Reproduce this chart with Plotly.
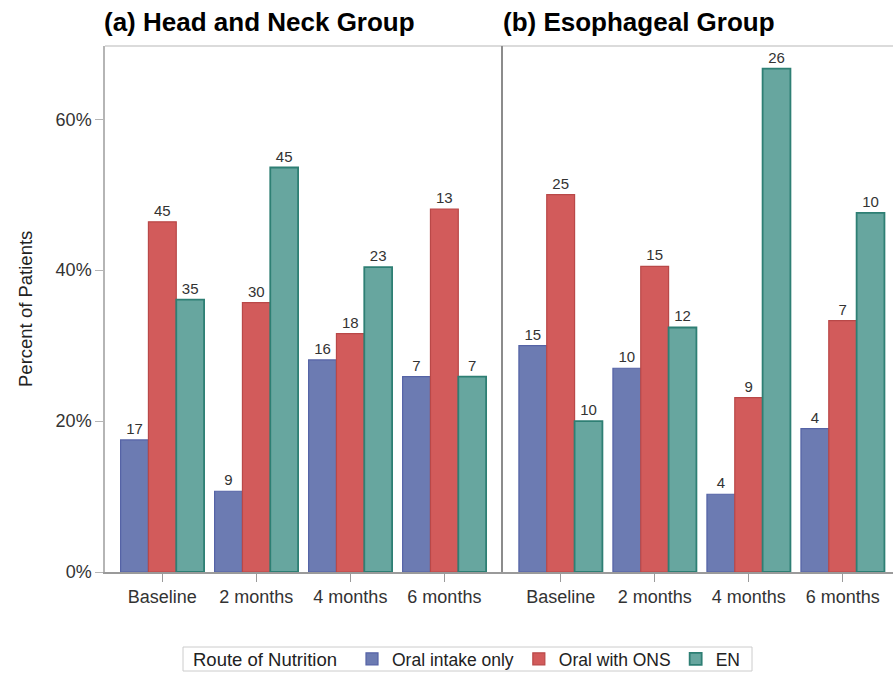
import plotly.graph_objects as go

# ---- data ----
timepoints = ["Baseline", "2 months", "4 months", "6 months"]
series_names = ["Oral intake only", "Oral with ONS", "EN"]

# Head and Neck group: percent of patients and patient counts
hn_oral_pct = [17.5, 10.7, 28.1, 25.9]
hn_ons_pct = [46.4, 35.7, 31.6, 48.1]
hn_en_pct = [36.1, 53.6, 40.4, 25.9]
hn_oral_n = [17, 9, 16, 7]
hn_ons_n = [45, 30, 18, 13]
hn_en_n = [35, 45, 23, 7]

# Esophageal group
es_oral_pct = [30.0, 27.0, 10.3, 19.0]
es_ons_pct = [50.0, 40.5, 23.1, 33.3]
es_en_pct = [20.0, 32.4, 66.7, 47.6]
es_oral_n = [15, 10, 4, 4]
es_ons_n = [25, 15, 9, 7]
es_en_n = [10, 12, 26, 10]

y_ticks = [0, 20, 40, 60]
y_tick_labels = ["0%", "20%", "40%", "60%"]
panel_titles = ["(a) Head and Neck Group", "(b) Esophageal Group"]
legend_title = "Route of Nutrition"
y_title = "Percent of Patients"

fills = ["#6C7BB2", "#D25B5B", "#67A69F"]
edges = ["#5563A6", "#B94848", "#2E7F74"]
edge_w = [1.2, 1.2, 1.8]

FONT = "Liberation Sans, Arial, sans-serif"

fig = go.Figure()

panels = [
    ("x", [hn_oral_pct, hn_ons_pct, hn_en_pct], [hn_oral_n, hn_ons_n, hn_en_n], True),
    ("x2", [es_oral_pct, es_ons_pct, es_en_pct], [es_oral_n, es_ons_n, es_en_n], False),
]
for xa, pcts, counts, show in panels:
    for i, name in enumerate(series_names):
        fig.add_trace(go.Bar(
            x=timepoints, y=pcts[i], name=name,
            text=[str(c) for c in counts[i]], textposition="outside",
            textfont=dict(size=15, color="#333333", family=FONT),
            cliponaxis=False,
            marker=dict(color=fills[i], line=dict(color=edges[i], width=edge_w[i])),
            xaxis=xa, yaxis="y", legendgroup=name, showlegend=show,
            offsetgroup=str(i),
        ))

W, H = 893, 673
ml, mr, mt, mb = 105, 0, 46, 101
pw = W - ml - mr
ph = H - mt - mb
split = (502 - ml) / pw


def px_x(p):
    return (p - ml) / pw


def px_y(p):
    return (mt + ph - p) / ph


axis_font = dict(size=18, color="#333333", family=FONT)

fig.update_layout(
    width=W, height=H,
    margin=dict(l=ml, r=mr, t=mt, b=mb, autoexpand=False),
    paper_bgcolor="white", plot_bgcolor="white",
    barmode="group", bargap=0.112, bargroupgap=0,
    font=dict(family=FONT),
    xaxis=dict(domain=[0, split], range=[-0.61, 3.613], type="category",
               showline=True, linecolor="#9a9a9a", linewidth=1.5, mirror=False,
               ticks="outside", ticklen=8, tickcolor="#9a9a9a", tickwidth=1,
               tickfont=axis_font, showgrid=False, zeroline=False, fixedrange=True),
    xaxis2=dict(domain=[split, 1], range=[-0.624, 3.535], type="category", anchor="y",
                showline=True, linecolor="#9a9a9a", linewidth=1.5,
                ticks="outside", ticklen=8, tickcolor="#9a9a9a", tickwidth=1,
                tickfont=axis_font, showgrid=False, zeroline=False, fixedrange=True),
    yaxis=dict(range=[0, 69.7], tickmode="array", tickvals=y_ticks, ticktext=y_tick_labels,
               showline=True, linecolor="#b5b5b5", linewidth=1.5,
               ticks="outside", ticklen=8, tickcolor="#b5b5b5",
               tickfont=axis_font, showgrid=False, zeroline=False, automargin=False),
    legend=dict(orientation="h", x=px_x(352), xanchor="left",
                y=px_y(659), yanchor="middle",
                font=dict(size=17.5, color="#222222", family=FONT),
                bgcolor="rgba(0,0,0,0)", borderwidth=0, itemwidth=30,
                tracegroupgap=0, valign="middle"),
    showlegend=True,
)

# top frame line and central divider
fig.add_shape(type="line", xref="paper", yref="paper", x0=0, x1=1, y0=1, y1=1,
              line=dict(color="#cfcfcf", width=1.5))
fig.add_shape(type="line", xref="paper", yref="paper", x0=split, x1=split, y0=0, y1=1,
              line=dict(color="#8c8c8c", width=2))
# legend frame
fig.add_shape(type="rect", xref="paper", yref="paper",
              x0=px_x(183), x1=px_x(752), y0=px_y(671), y1=px_y(647),
              line=dict(color="#cccccc", width=1), fillcolor="rgba(0,0,0,0)")
fig.add_annotation(text=legend_title, xref="paper", yref="paper",
                   x=px_x(191), y=px_y(659), xanchor="left", yanchor="middle",
                   showarrow=False, font=dict(size=18.5, color="#222222", family=FONT))

# panel titles
fig.add_annotation(text="<b>" + panel_titles[0] + "</b>", xref="paper", yref="paper",
                   x=px_x(102), y=px_y(22), xanchor="left", yanchor="middle",
                   showarrow=False, font=dict(size=26, color="black", family=FONT))
fig.add_annotation(text="<b>" + panel_titles[1] + "</b>", xref="paper", yref="paper",
                   x=px_x(501), y=px_y(22), xanchor="left", yanchor="middle",
                   showarrow=False, font=dict(size=26, color="black", family=FONT))
# y axis title
fig.add_annotation(text=y_title, xref="paper", yref="paper",
                   x=px_x(25), y=0.5, xanchor="center", yanchor="middle",
                   textangle=-90, showarrow=False,
                   font=dict(size=18.5, color="#222222", family=FONT))

fig.write_html("out.html")
